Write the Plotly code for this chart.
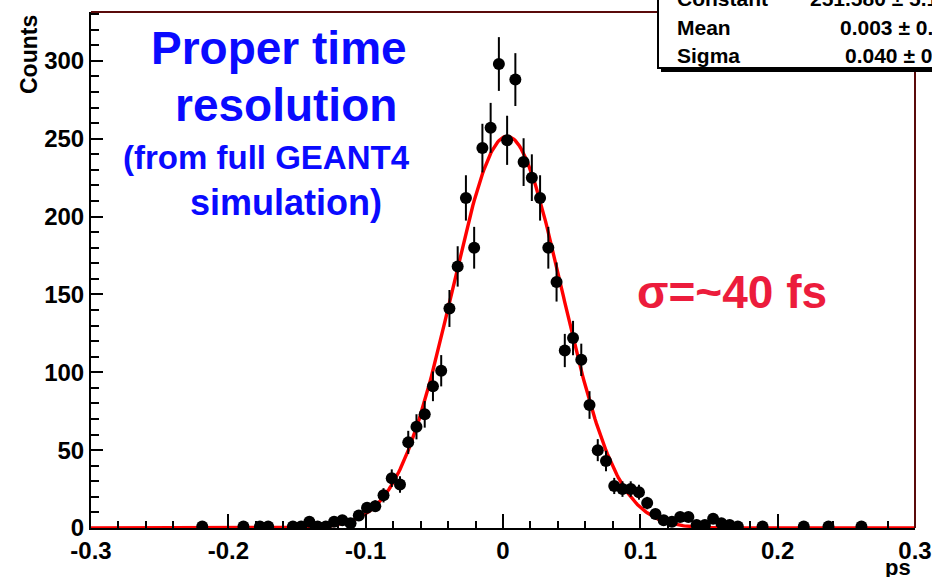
import numpy as np
import plotly.graph_objects as go

# ---- data ----
bin_width = 0.006
x_min, x_max = -0.3, 0.3
bin_index = [13, 18, 20, 21, 24, 25, 26, 27, 28, 29, 30, 31, 32, 33, 34, 35, 36, 37, 38, 39,
             40, 41, 42, 43, 44, 45, 46, 47, 48, 49, 50, 51, 52, 53, 54, 55, 56, 57, 58, 59,
             60, 61, 62, 63, 64, 65, 66, 67, 68, 69, 70, 71, 72, 73, 74, 75, 76, 77, 78,
             81, 86, 89, 93]
counts = [1, 1, 1, 1, 1, 1, 4, 1, 1, 4, 5, 3, 8, 13, 14, 21, 32, 28, 55, 65,
          73, 91, 101, 141, 168, 212, 180, 244, 257, 298, 249, 288, 235, 225, 212, 180, 158, 114, 122, 108,
          79, 50, 43, 27, 25, 25, 23, 16, 9, 5, 4, 7, 7, 2, 2, 6, 3, 2, 1,
          1, 1, 1, 1]
fit_constant = 251.6
fit_mean = 0.003
fit_sigma = 0.040
stat_names = ["Constant", "Mean", "Sigma"]
stat_values = ["251.580 \u00b1 5.1", "0.003 \u00b1 0.001", "0.040 \u00b1 0.001"]
x_tick_vals = [-0.3, -0.2, -0.1, 0.0, 0.1, 0.2, 0.3]
x_tick_text = ["-0.3", "-0.2", "-0.1", "0", "0.1", "0.2", "0.3"]
y_tick_vals = [0, 50, 100, 150, 200, 250, 300]
y_tick_text = ["0", "50", "100", "150", "200", "250", "300"]

centers = [x_min + bin_width * (i + 0.5) for i in bin_index]
errors = [float(np.sqrt(c)) for c in counts]
xf = np.linspace(x_min, x_max, 601)
yf = fit_constant * np.exp(-0.5 * ((xf - fit_mean) / fit_sigma) ** 2)

# ---- layout geometry ----
W, H = 932, 577
L, R, T, B = 91, 17, 12, 49
PW, PH = W - L - R, H - T - B


def px(xp):
    return (xp - L) / PW


def py(yp):
    return (H - B - yp) / PH


FONT = "Liberation Sans, Arial, Helvetica, sans-serif"

fig = go.Figure()
fig.add_trace(go.Scatter(
    x=xf, y=yf, mode="lines", line=dict(color="#ff0000", width=3.4),
    hoverinfo="skip", showlegend=False))
fig.add_trace(go.Scatter(
    x=centers, y=counts, mode="markers",
    marker=dict(color="black", size=12, symbol="circle"),
    error_y=dict(type="data", array=errors, visible=True, color="black",
                 thickness=2, width=0),
    showlegend=False))

shapes = []
# frame top & right (dark red)
shapes.append(dict(type="line", xref="paper", yref="paper", x0=0, x1=1, y0=1, y1=1,
                   line=dict(color="#5a0a0a", width=2)))
shapes.append(dict(type="line", xref="paper", yref="paper", x0=1, x1=1, y0=0, y1=1,
                   line=dict(color="#5a0a0a", width=2)))
# stats box shadow + box
shapes.append(dict(type="rect", xref="paper", yref="paper",
                   x0=px(661), x1=px(950), y0=py(72), y1=py(-40),
                   fillcolor="black", line=dict(width=0)))
shapes.append(dict(type="rect", xref="paper", yref="paper",
                   x0=px(658), x1=px(947), y0=py(68), y1=py(-40),
                   fillcolor="white", line=dict(color="black", width=2)))

annotations = []
row_y = [-1, 27, 55]
val_x = [808, 838, 843]
for name, val, yy, vx in zip(stat_names, stat_values, row_y, val_x):
    annotations.append(dict(xref="paper", yref="paper", x=px(675), y=py(yy),
                            xanchor="left", yanchor="middle", text=name, showarrow=False,
                            font=dict(family=FONT, size=21, color="black", weight="bold")))
    annotations.append(dict(xref="paper", yref="paper", x=px(vx), y=py(yy),
                            xanchor="left", yanchor="middle", text=val, showarrow=False,
                            font=dict(family=FONT, size=21, color="black", weight="bold")))

blue = "#0a0aff"
for txt, cx, cy, sz in [("Proper time", 279, 48, 46), ("resolution", 286, 105, 46),
                        ("(from full GEANT4", 266, 158, 33), ("simulation)", 286, 202, 36)]:
    annotations.append(dict(xref="paper", yref="paper", x=px(cx), y=py(cy),
                            xanchor="center", yanchor="middle", text=txt, showarrow=False,
                            font=dict(family=FONT, size=sz, color=blue, weight="bold")))
annotations.append(dict(xref="paper", yref="paper", x=px(732), y=py(292),
                        xanchor="center", yanchor="middle", text="\u03c3=~40 fs", showarrow=False,
                        font=dict(family=FONT, size=46, color="#ec1c3c", weight="bold")))
annotations.append(dict(xref="paper", yref="paper", x=px(29), y=py(55),
                        xanchor="center", yanchor="middle", text="Counts", textangle=-90,
                        showarrow=False,
                        font=dict(family=FONT, size=23, color="black", weight="bold")))
annotations.append(dict(xref="paper", yref="paper", x=px(898), y=py(567),
                        xanchor="center", yanchor="middle", text="ps", showarrow=False,
                        font=dict(family=FONT, size=22, color="black", weight="bold")))

tickfont = dict(family=FONT, size=24, color="black", weight="bold")
fig.update_layout(
    width=W, height=H,
    margin=dict(l=L, r=R, t=T, b=B, pad=0, autoexpand=False),
    paper_bgcolor="white", plot_bgcolor="white",
    shapes=shapes, annotations=annotations,
    xaxis=dict(range=[x_min, x_max], showgrid=False, zeroline=False, automargin=False,
               showline=True, linecolor="black", linewidth=2,
               ticks="inside", ticklen=14, tickwidth=1.5, tickcolor="black",
               tickvals=x_tick_vals, ticktext=x_tick_text, tickfont=tickfont,
               minor=dict(dtick=0.02, tick0=-0.3, ticks="inside", ticklen=7,
                          tickwidth=1.5, tickcolor="black", showgrid=False)),
    yaxis=dict(range=[0, (H - B - T) / 1.557], showgrid=False, zeroline=False, automargin=False,
               showline=True, linecolor="black", linewidth=2,
               ticks="inside", ticklen=12, tickwidth=1.5, tickcolor="black",
               tickvals=y_tick_vals, ticktext=y_tick_text, tickfont=tickfont,
               minor=dict(dtick=10, tick0=0, ticks="inside", ticklen=8,
                          tickwidth=1.5, tickcolor="black", showgrid=False)),
)

fig.write_html("out.html")
